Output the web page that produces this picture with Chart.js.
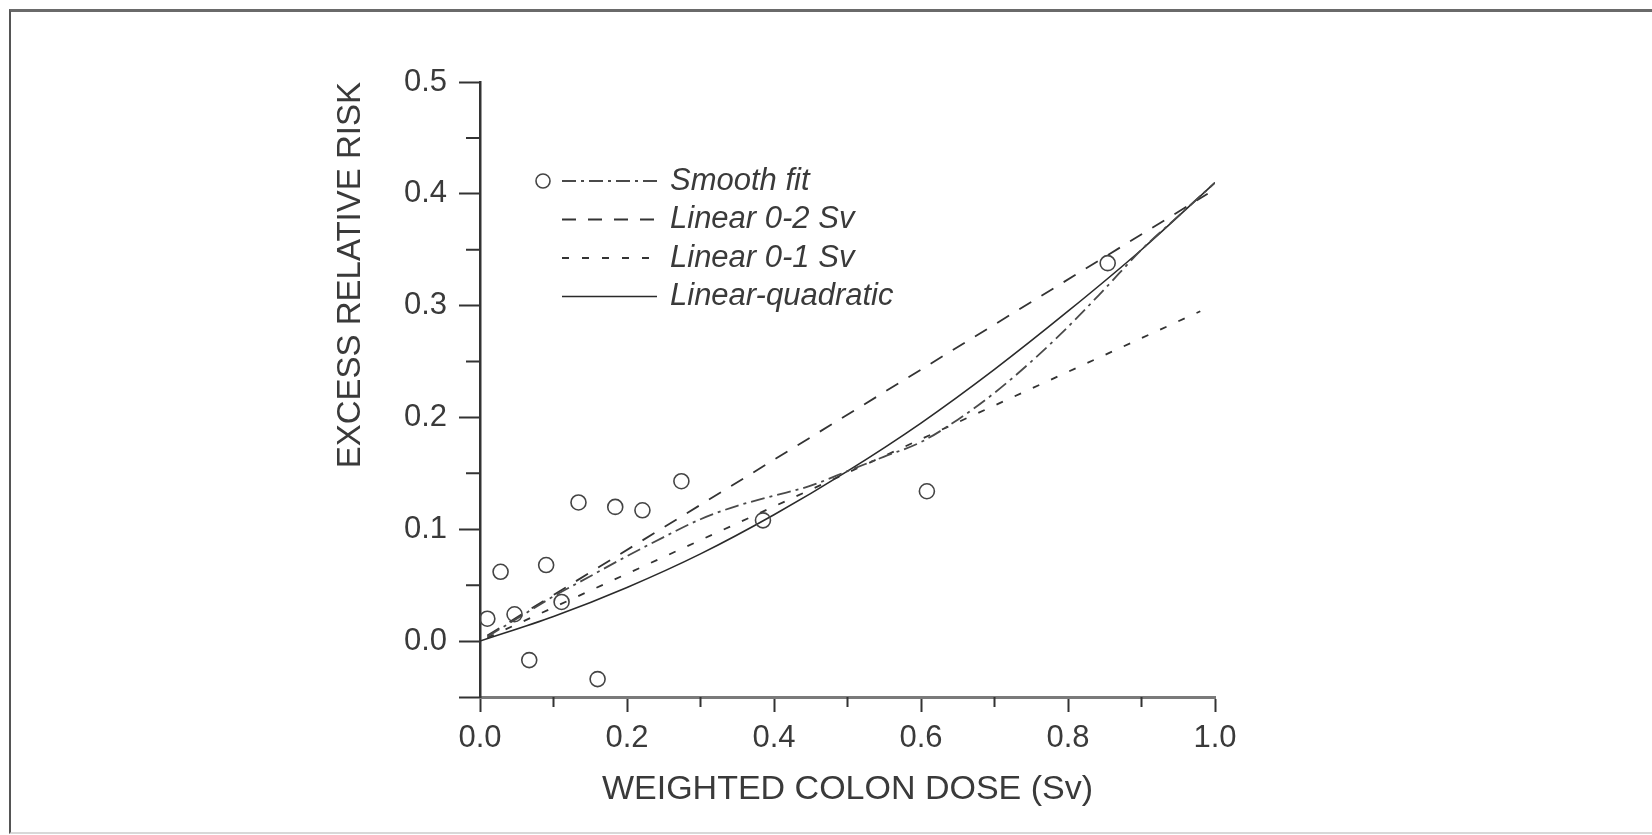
<!DOCTYPE html>
<html>
<head>
<meta charset="utf-8">
<script src="https://cdn.jsdelivr.net/npm/chart.js@4.4.1/dist/chart.umd.min.js"></script>
<style>
  html, body { margin: 0; padding: 0; background: #fff; }
  #wrap { position: relative; width: 1652px; height: 835px; }
  #frame {
    position: absolute; left: 9px; top: 9px; right: 0; height: 820px;
    border-top: 3px solid #6a6a6a; border-left: 2px solid #555;
    border-bottom: 2px solid #d8d8d8; pointer-events: none;
  }
</style>
</head>
<body>
<div id="wrap">
  <canvas id="chart"></canvas>
  <div id="frame"></div>
</div>
<script>
// observed excess relative risk by dose group
const obsDose = [0.010, 0.028, 0.047, 0.067, 0.090, 0.111, 0.134, 0.160, 0.184, 0.221, 0.274, 0.385, 0.608, 0.854];
const obsErr  = [0.020, 0.062, 0.024, -0.017, 0.068, 0.035, 0.124, -0.034, 0.120, 0.117, 0.143, 0.108, 0.134, 0.338];

// smooth fit (dash-dot)
const smoothDose = [0.01, 0.05, 0.10, 0.15, 0.20, 0.25, 0.30, 0.35, 0.40, 0.45, 0.50, 0.55, 0.60, 0.65, 0.70, 0.75, 0.80, 0.85, 0.90, 0.95, 1.00];
const smoothErr  = [0.004, 0.020, 0.040, 0.058, 0.076, 0.093, 0.109, 0.121, 0.130, 0.139, 0.152, 0.165, 0.178, 0.198, 0.222, 0.250, 0.281, 0.315, 0.350, 0.380, 0.410];

// linear 0-2 Sv and linear 0-1 Sv
const lin02Dose = [0.01, 0.99];
const lin02Err  = [0.005, 0.400];
const lin01Dose = [0.01, 0.98];
const lin01Err  = [0.003, 0.295];

// linear-quadratic
const lqDose = [0.00, 0.10, 0.20, 0.30, 0.40, 0.50, 0.60, 0.70, 0.80, 0.90, 1.00];
const lqErr  = [0.000, 0.022, 0.048, 0.078, 0.113, 0.152, 0.195, 0.243, 0.295, 0.350, 0.410];

const xTickLabels = ['0.0', '0.2', '0.4', '0.6', '0.8', '1.0'];
const yTickLabels = ['0.0', '0.1', '0.2', '0.3', '0.4', '0.5'];

const pairs = (xs, ys) => xs.map((x, i) => ({ x: x, y: ys[i] }));

const FONT = "'Liberation Sans', Arial, sans-serif";
const INK = '#3a3a3a';

const isMajorX = v => xTickLabels.includes(v.toFixed(1)) && Math.abs(v * 5 - Math.round(v * 5)) < 1e-6;
const isMajorY = v => v < -0.01 || Math.abs(v * 10 - Math.round(v * 10)) < 1e-6;

// short minor tick marks, drawn from the scales' own pixel mapping
const minorTicks = {
  id: 'minorTicks',
  afterDraw(chart) {
    const ctx = chart.ctx;
    const xs = chart.scales.x, ys = chart.scales.y;
    ctx.save();
    ctx.strokeStyle = '#333';
    ctx.lineWidth = 2;
    ctx.beginPath();
    xs.ticks.forEach(t => {
      if (isMajorX(t.value)) return;
      const px = xs.getPixelForValue(t.value);
      ctx.moveTo(px, xs.top);
      ctx.lineTo(px, xs.top + 10);
    });
    ys.ticks.forEach(t => {
      if (isMajorY(t.value)) return;
      const py = ys.getPixelForValue(t.value);
      ctx.moveTo(ys.right, py);
      ctx.lineTo(ys.right - 14, py);
    });
    ctx.stroke();
    ctx.restore();
  }
};

// legend drawn inside the plot area, like the original figure
const insideLegend = {
  id: 'insideLegend',
  afterDatasetsDraw(chart) {
    const { ctx, chartArea } = chart;
    const ds = chart.data.datasets;
    const lineX0 = chartArea.left + 82, lineX1 = chartArea.left + 177;
    const textX = chartArea.left + 190;
    const rowY0 = chartArea.top + 99, rowGap = 38.5;
    ctx.save();
    // data marker in front of the first row
    ctx.beginPath();
    ctx.arc(chartArea.left + 63, rowY0, 7, 0, Math.PI * 2);
    ctx.strokeStyle = ds[0].borderColor;
    ctx.lineWidth = ds[0].borderWidth;
    ctx.stroke();
    for (let i = 1; i < ds.length; i++) {
      const y = rowY0 + (i - 1) * rowGap;
      ctx.beginPath();
      ctx.setLineDash(ds[i].borderDash || []);
      ctx.strokeStyle = ds[i].borderColor;
      ctx.lineWidth = ds[i].borderWidth;
      ctx.moveTo(lineX0, y);
      ctx.lineTo(lineX1, y);
      ctx.stroke();
      ctx.setLineDash([]);
      ctx.fillStyle = INK;
      ctx.font = 'italic 31px ' + FONT;
      ctx.textAlign = 'left';
      ctx.textBaseline = 'middle';
      ctx.fillText(ds[i].label, textX, y);
    }
    ctx.restore();
  }
};

const ctx = document.getElementById('chart').getContext('2d');
new Chart(ctx, {
  type: 'scatter',
  data: {
    datasets: [
      {
        label: 'Observed',
        data: pairs(obsDose, obsErr),
        pointStyle: 'circle',
        pointRadius: 7.5,
        backgroundColor: 'rgba(0,0,0,0)',
        borderColor: '#444',
        borderWidth: 1.6,
        order: 0
      },
      {
        label: 'Smooth fit',
        data: pairs(smoothDose, smoothErr),
        showLine: true, pointRadius: 0,
        borderColor: '#4a4a4a', borderWidth: 1.8,
        borderDash: [14, 5, 3, 5],
        cubicInterpolationMode: 'monotone'
      },
      {
        label: 'Linear 0-2 Sv',
        data: pairs(lin02Dose, lin02Err),
        showLine: true, pointRadius: 0,
        borderColor: '#333', borderWidth: 1.8,
        borderDash: [14, 12]
      },
      {
        label: 'Linear 0-1 Sv',
        data: pairs(lin01Dose, lin01Err),
        showLine: true, pointRadius: 0,
        borderColor: '#333', borderWidth: 1.8,
        borderDash: [7, 13]
      },
      {
        label: 'Linear-quadratic',
        data: pairs(lqDose, lqErr),
        showLine: true, pointRadius: 0,
        borderColor: '#2a2a2a', borderWidth: 1.6,
        cubicInterpolationMode: 'monotone'
      }
    ]
  },
  options: {
    responsive: true,
    maintainAspectRatio: false,
    animation: false,
    events: [],
    layout: { padding: { top: 82, right: 437, left: 0, bottom: 0 } },
    plugins: {
      legend: { display: false },
      tooltip: { enabled: false }
    },
    scales: {
      x: {
        type: 'linear',
        min: 0, max: 1,
        afterFit: s => { s.height = 138; },
        border: { color: '#7a7a7a', width: 3 },
        grid: {
          drawOnChartArea: false,
          tickLength: 15,
          tickWidth: 2,
          tickColor: c => (c.tick && isMajorX(c.tick.value)) ? '#333' : 'rgba(0,0,0,0)'
        },
        ticks: {
          stepSize: 0.1,
          autoSkip: false,
          maxRotation: 0,
          padding: 8,
          color: INK,
          font: { family: FONT, size: 31 },
          callback: v => isMajorX(v) ? v.toFixed(1) : ''
        },
        title: {
          display: true,
          text: 'WEIGHTED COLON DOSE (Sv)',
          color: INK,
          font: { family: FONT, size: 34 },
          padding: { top: 0, bottom: 25 }
        }
      },
      y: {
        type: 'linear',
        min: -0.05, max: 0.5,
        afterFit: s => { s.width = 480; },
        border: { color: '#333', width: 2.5 },
        grid: {
          drawOnChartArea: false,
          tickLength: 21,
          tickWidth: 2,
          tickColor: c => (c.tick && isMajorY(c.tick.value)) ? '#333' : 'rgba(0,0,0,0)'
        },
        ticks: {
          stepSize: 0.05,
          autoSkip: false,
          padding: 12,
          color: INK,
          font: { family: FONT, size: 31 },
          callback: v => (v > -0.01 && isMajorY(v)) ? yTickLabels[Math.round(v * 10)] : ''
        },
        title: {
          display: true,
          text: 'EXCESS RELATIVE RISK',
          align: 'end',
          color: INK,
          font: { family: FONT, size: 33 },
          padding: { top: 331, bottom: 0 }
        }
      }
    }
  },
  plugins: [minorTicks, insideLegend]
});
</script>
</body>
</html>
